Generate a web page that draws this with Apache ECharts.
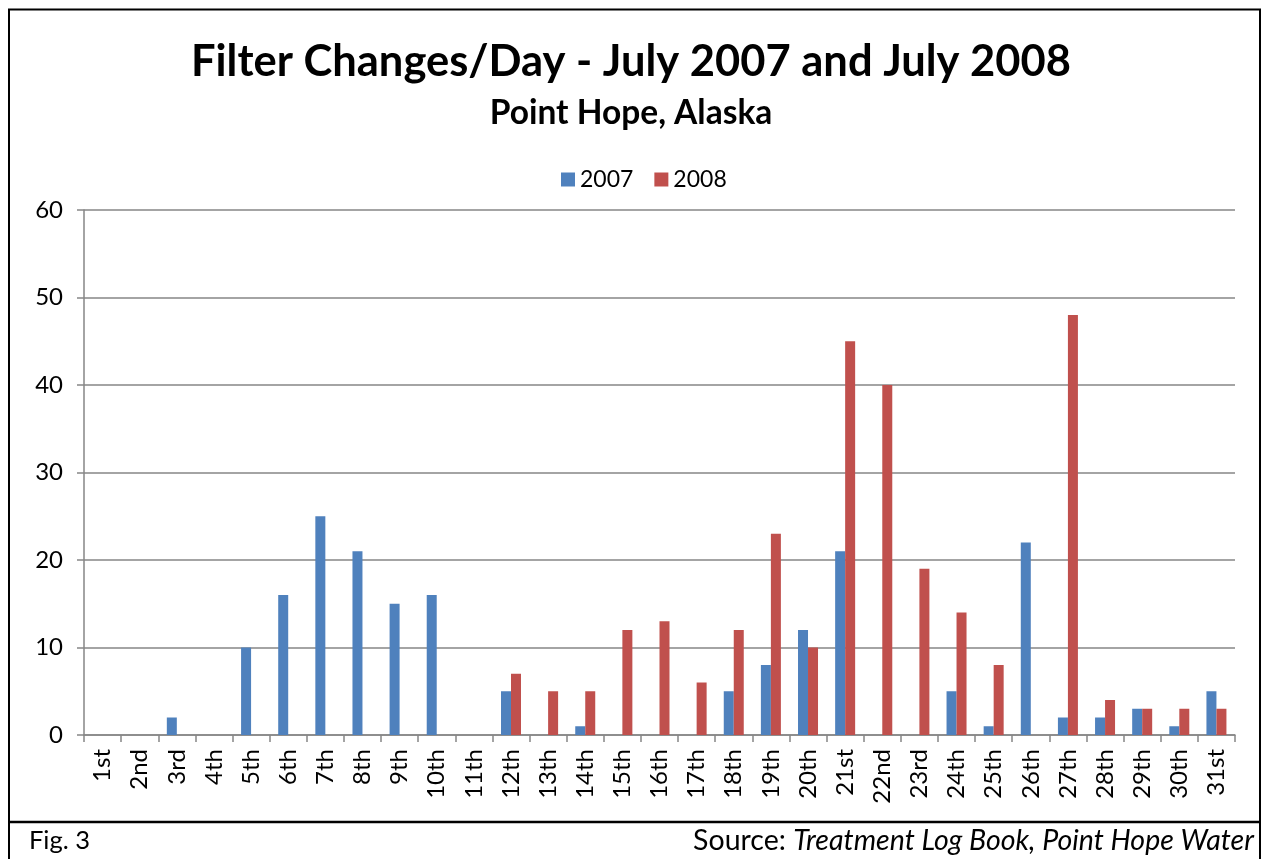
<!DOCTYPE html>
<html>
<head>
<meta charset="utf-8">
<script src="https://cdn.jsdelivr.net/npm/echarts@6/dist/echarts.min.js"></script>
<style>
  html, body { margin: 0; padding: 0; background: #fff; }
  #main { width: 1262px; height: 859px; }
</style>
</head>
<body>
<div id="main"></div>
<script>
// 日期（7月）
const days = ["1st", "2nd", "3rd", "4th", "5th", "6th", "7th", "8th", "9th", "10th",
  "11th", "12th", "13th", "14th", "15th", "16th", "17th", "18th", "19th", "20th",
  "21st", "22nd", "23rd", "24th", "25th", "26th", "27th", "28th", "29th", "30th", "31st"];
// 2007 每日更换滤芯次数
const changes2007 = [0, 0, 2, 0, 10, 16, 25, 21, 15, 16, 0, 5, 0, 1, 0, 0, 0, 5, 8, 12,
  21, 0, 0, 5, 1, 22, 2, 2, 3, 1, 5];
// 2008 每日更换滤芯次数
const changes2008 = [0, 0, 0, 0, 0, 0, 0, 0, 0, 0, 0, 7, 5, 5, 12, 13, 6, 12, 23, 10,
  45, 40, 19, 14, 8, 0, 48, 4, 3, 3, 3];

const font = "Lato, 'Open Sans', sans-serif";
const axisGrey = "#868686";

var chartDom = document.getElementById("main");
var myChart = echarts.init(chartDom);
var option;

option = {
  backgroundColor: "#fff",
  animation: false,
  textStyle: { fontFamily: font, color: "#000" },
  title: {
    text: "Filter Changes/Day - July 2007 and July 2008",
    subtext: "Point Hope, Alaska",
    left: "center",
    top: 35,
    itemGap: 12,
    textStyle: { fontSize: 43.5, fontWeight: "bold", color: "#000", fontFamily: font },
    subtextStyle: { fontSize: 33.5, fontWeight: "bold", color: "#000", fontFamily: font }
  },
  legend: {
    top: 163,
    left: 556,
    icon: "rect",
    itemWidth: 14,
    itemHeight: 14,
    itemGap: 21,
    textStyle: { fontSize: 23, color: "#000", fontFamily: font }
  },
  grid: {
    left: 84,
    right: 27,
    top: 210,
    bottom: 124
  },
  // x轴
  xAxis: {
    type: "category",
    data: days,
    axisLine: { lineStyle: { color: axisGrey, width: 1.5 } },
    axisTick: { show: true, length: 7, alignWithLabel: false, lineStyle: { color: axisGrey, width: 1.5 } },
    axisLabel: {
      rotate: 90,
      interval: 0,
      margin: 14,
      fontSize: 24,
      color: "#000",
      fontFamily: font
    }
  },
  // y轴
  yAxis: {
    type: "value",
    min: 0,
    max: 60,
    interval: 10,
    axisLine: { show: true, lineStyle: { color: axisGrey, width: 1.5 } },
    axisTick: { show: true, length: 7, lineStyle: { color: axisGrey, width: 1.5 } },
    axisLabel: { margin: 21, fontSize: 24, color: "#000", fontFamily: font },
    splitLine: { lineStyle: { color: axisGrey, width: 1.5 } }
  },
  series: [
    {
      name: "2007",
      type: "bar",
      data: changes2007,
      barWidth: 10,
      barGap: "0%",
      itemStyle: { color: "#4F81BD" }
    },
    {
      name: "2008",
      type: "bar",
      data: changes2008,
      barWidth: 10,
      barGap: "0%",
      itemStyle: { color: "#C0504D" }
    }
  ],
  // 外框和底部注释
  graphic: [
    {
      type: "rect",
      shape: { x: 9, y: 9.5, width: 1251, height: 860 },
      style: { fill: null, stroke: "#000", lineWidth: 2 },
      silent: true
    },
    {
      type: "line",
      shape: { x1: 9, y1: 822, x2: 1261, y2: 822 },
      style: { stroke: "#000", lineWidth: 2.5 },
      silent: true
    },
    {
      type: "text",
      left: 29,
      top: 828,
      style: { text: "Fig. 3", fontSize: 25.5, fontFamily: font, fill: "#000" }
    },
    {
      type: "text",
      right: 8,
      top: 826,
      style: {
        text: "{n|Source: }{i|Treatment Log Book, Point Hope Water}",
        rich: {
          n: { fontSize: 28.5, fontFamily: font, fill: "#000" },
          i: { fontSize: 28.5, fontFamily: font, fontStyle: "italic", fill: "#000" }
        }
      }
    }
  ]
};

option && myChart.setOption(option);
</script>
</body>
</html>
